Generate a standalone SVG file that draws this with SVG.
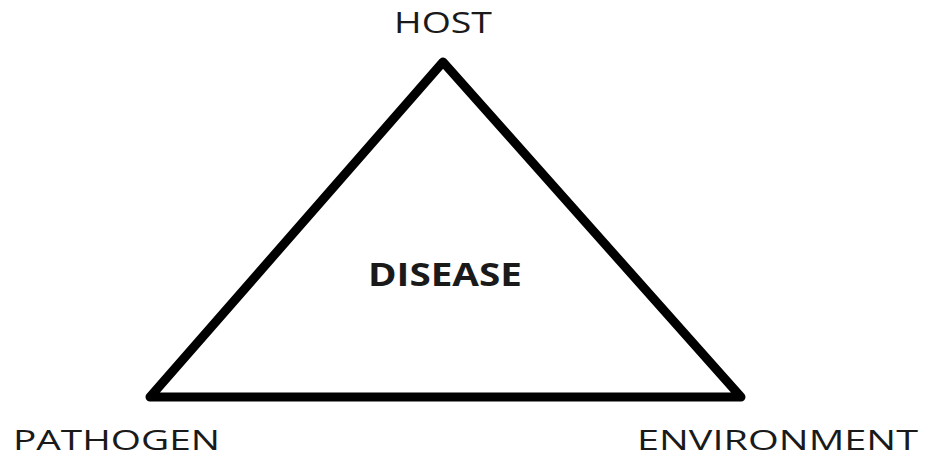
<svg xmlns="http://www.w3.org/2000/svg" width="927" height="458" viewBox="0 0 927 458">
<style>
.lbl{font-family:"Open Sans","Liberation Sans",sans-serif;font-size:29px;fill:#1a1a1a;}
.btm{font-size:28px;}
.ctr{font-family:"Open Sans","Liberation Sans",sans-serif;font-size:32px;font-weight:bold;fill:#1a1a1a;}
</style>
<rect width="927" height="458" fill="#fff"/>
<g id="connectors">
<path d="M443 62 L150 397 L741 397 Z" fill="none" stroke="#000" stroke-width="9" stroke-linejoin="round"/>
</g>
<g id="host"><text class="lbl" x="394" y="33" textLength="98" lengthAdjust="spacingAndGlyphs">HOST</text></g>
<g id="disease"><text class="ctr" x="368" y="286" textLength="154" lengthAdjust="spacingAndGlyphs">DISEASE</text></g>
<g id="pathogen"><text class="lbl btm" x="13" y="450" textLength="207" lengthAdjust="spacingAndGlyphs">PATHOGEN</text></g>
<g id="environment"><text class="lbl btm" x="637" y="450" textLength="281" lengthAdjust="spacingAndGlyphs">ENVIRONMENT</text></g>
</svg>
